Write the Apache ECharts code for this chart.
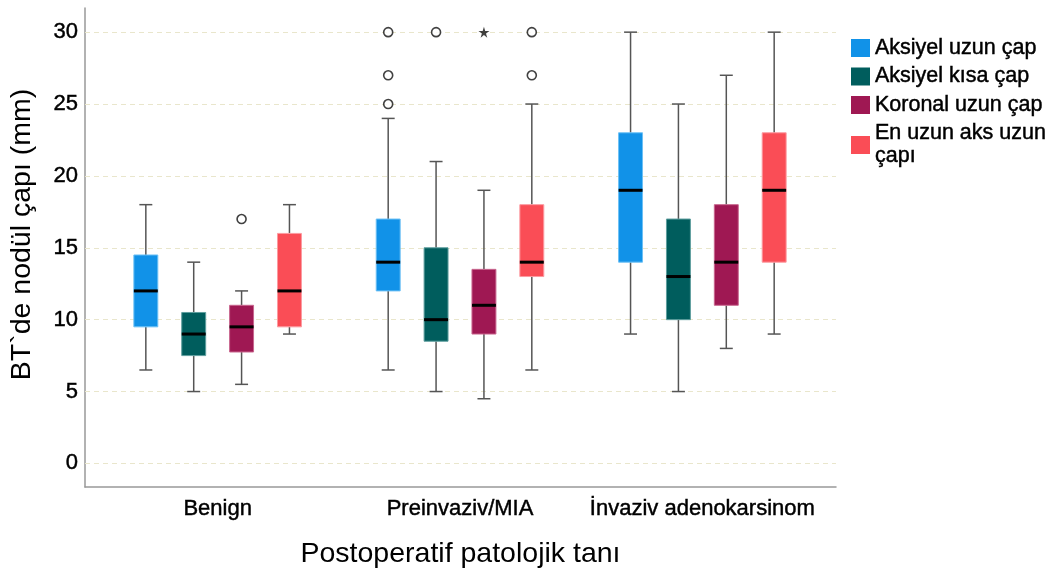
<!DOCTYPE html>
<html>
<head>
<meta charset="utf-8">
<script src="https://cdn.jsdelivr.net/npm/echarts@6/dist/echarts.min.js"></script>
<style>
  html, body { margin: 0; padding: 0; background: #fff; }
  #chart { width: 1056px; height: 574px; }
</style>
</head>
<body>
<div id="chart"></div>
<script>
// Categories and series
const groups = ['Benign', 'Preinvaziv/MIA', 'İnvaziv adenokarsinom'];
const seriesNames = ['Aksiyel uzun çap', 'Aksiyel kısa çap', 'Koronal uzun çap', 'En uzun aks uzun\nçapı'];

// Box statistics per group: [lower whisker, Q1, median, Q3, upper whisker]
const aksiyelUzun = [[6.5, 9.5, 12, 14.5, 18], [6.5, 12, 14, 17, 24], [9, 14, 19, 23, 30]];
const aksiyelKisa = [[5, 7.5, 9, 10.5, 14], [5, 8.5, 10, 15, 21], [5, 10, 13, 17, 25]];
const koronalUzun = [[5.5, 7.75, 9.5, 11, 12], [4.5, 9, 11, 13.5, 19], [8, 11, 14, 18, 27]];
const enUzunAks = [[9, 9.5, 12, 16, 18], [6.5, 13, 14, 18, 25], [9, 14, 19, 23, 30]];

// Outliers [group index, value]; extremes are drawn as stars
const outAksiyelUzun = [[1, 30], [1, 27], [1, 25]];
const outAksiyelKisa = [[1, 30]];
const outKoronalUzun = [[0, 17]];
const extKoronalUzun = [[1, 30]];
const outEnUzunAks = [[1, 30], [1, 27]];

// Value axis ticks
const yTicks = [0, 5, 10, 15, 20, 25, 30];

const boxStats = [aksiyelUzun, aksiyelKisa, koronalUzun, enUzunAks];
const outliers = [outAksiyelUzun, outAksiyelKisa, outKoronalUzun, outEnUzunAks];
const extremes = [[], [], extKoronalUzun, []];

const colors = ['#1192e8', '#005d5d', '#9f1853', '#fa4d56'];
const edgeColors = ['#6cc0f5', '#5e9e9e', '#c8668e', '#fc9aa0'];

// Layout in x-axis units (one unit = one category band)
const SLOT = 48 / 243;
const BOX_W = 24 / 243;
const CAP_W = 13 / 243;
const offsetOf = k => (k - 1.5) * SLOT;

const FONT = "'Liberation Sans', Arial, sans-serif";
// slight stroke around glyphs gives the text a heavier weight
const INK = { color: '#000', textBorderColor: '#000', textBorderWidth: 0.45 };
const STAR = 'path://M50,0 L61,35 L98,35 L68,57 L79,91 L50,70 L21,91 L32,57 L2,35 L39,35 Z';

function makeRender(k) {
  return function (params, api) {
    const x = api.value(0) + offsetOf(k);
    const lo = api.coord([x, api.value(1)]);
    const q1 = api.coord([x, api.value(2)]);
    const md = api.coord([x, api.value(3)]);
    const q3 = api.coord([x, api.value(4)]);
    const hi = api.coord([x, api.value(5)]);
    const w = api.size([BOX_W, 0])[0];
    const cw = api.size([CAP_W, 0])[0];
    const cx = md[0];
    const whisker = { stroke: '#555', lineWidth: 1.5 };
    return {
      type: 'group',
      children: [
        { type: 'line', shape: { x1: cx, y1: hi[1], x2: cx, y2: q3[1] }, style: whisker },
        { type: 'line', shape: { x1: cx, y1: q1[1], x2: cx, y2: lo[1] }, style: whisker },
        { type: 'line', shape: { x1: cx - cw / 2, y1: hi[1], x2: cx + cw / 2, y2: hi[1] }, style: whisker },
        { type: 'line', shape: { x1: cx - cw / 2, y1: lo[1], x2: cx + cw / 2, y2: lo[1] }, style: whisker },
        { type: 'rect', shape: { x: cx - w / 2, y: q3[1], width: w, height: q1[1] - q3[1] },
          style: { fill: colors[k], stroke: edgeColors[k], lineWidth: 1 } },
        { type: 'line', shape: { x1: cx - w / 2, y1: md[1], x2: cx + w / 2, y2: md[1] },
          style: { stroke: '#000', lineWidth: 3 } }
      ]
    };
  };
}

const series = [];
boxStats.forEach((stats, k) => {
  series.push({
    name: seriesNames[k],
    type: 'custom',
    z: 3,
    itemStyle: { color: colors[k] },
    renderItem: makeRender(k),
    encode: { x: 0, y: [1, 2, 3, 4, 5] },
    data: stats.map((s, g) => [g].concat(s))
  });
});
outliers.forEach((pts, k) => {
  series.push({
    name: 'outlier-' + k,
    type: 'scatter',
    z: 4,
    symbol: 'circle',
    symbolSize: 9,
    itemStyle: { color: '#fff', borderColor: '#111', borderWidth: 1.6 },
    data: pts.map(([g, v]) => [g + offsetOf(k), v])
  });
});
extremes.forEach((pts, k) => {
  if (!pts.length) return;
  series.push({
    name: 'extreme-' + k,
    type: 'scatter',
    z: 4,
    symbol: STAR,
    symbolSize: 11,
    itemStyle: { color: '#111' },
    data: pts.map(([g, v]) => [g + offsetOf(k), v])
  });
});
// Dashed horizontal grid lines at the tick values
series.push({
  name: 'grid-lines',
  type: 'scatter',
  data: [],
  silent: true,
  markLine: {
    z: 1,
    silent: true,
    symbol: 'none',
    label: { show: false },
    lineStyle: { color: '#e9e6cc', type: [5, 4], width: 1.2 },
    emphasis: { disabled: true },
    data: yTicks.map(v => ({ yAxis: v }))
  }
});

const chart = echarts.init(document.getElementById('chart'), null, { renderer: 'canvas' });
chart.setOption({
  animation: false,
  backgroundColor: '#fff',
  textStyle: { fontFamily: FONT },
  grid: { left: 83, right: 220, top: 8, bottom: 85 },
  legend: {
    data: seriesNames,
    orient: 'vertical',
    left: 851,
    top: 36.5,
    padding: 0,
    icon: 'rect',
    itemWidth: 19,
    itemHeight: 18,
    itemGap: 5.5,
    selectedMode: false,
    textStyle: Object.assign({ fontFamily: FONT, fontSize: 21.5, lineHeight: 23 }, INK)
  },
  xAxis: {
    type: 'value',
    min: -0.5473,
    max: 2.5514,
    axisLine: { onZero: false, lineStyle: { color: '#999', width: 1.5 } },
    axisTick: { show: false },
    splitLine: { show: false },
    axisLabel: Object.assign({
      customValues: [0, 1, 2],
      formatter: v => groups[Math.round(v)],
      fontFamily: FONT,
      fontSize: 22,
      margin: 11
    }, INK),
    name: 'Postoperatif patolojik tanı',
    nameLocation: 'middle',
    nameGap: 53,
    nameTextStyle: { fontFamily: FONT, fontSize: 28.5, color: '#000' }
  },
  yAxis: {
    type: 'value',
    min: -1.64,
    max: 31.68,
    axisLine: { show: true, onZero: false, lineStyle: { color: '#999', width: 1.5 } },
    axisTick: { show: false },
    splitLine: { show: false },
    axisLabel: Object.assign({
      customValues: yTicks,
      fontFamily: FONT,
      fontSize: 22,
      margin: 7
    }, INK),
    name: 'BT`de nodül çapı (mm)',
    nameLocation: 'middle',
    nameGap: 48,
    nameTextStyle: { fontFamily: FONT, fontSize: 28.5, color: '#000', padding: [0, 0, 0, 26] }
  },
  series: series
});
</script>
</body>
</html>
